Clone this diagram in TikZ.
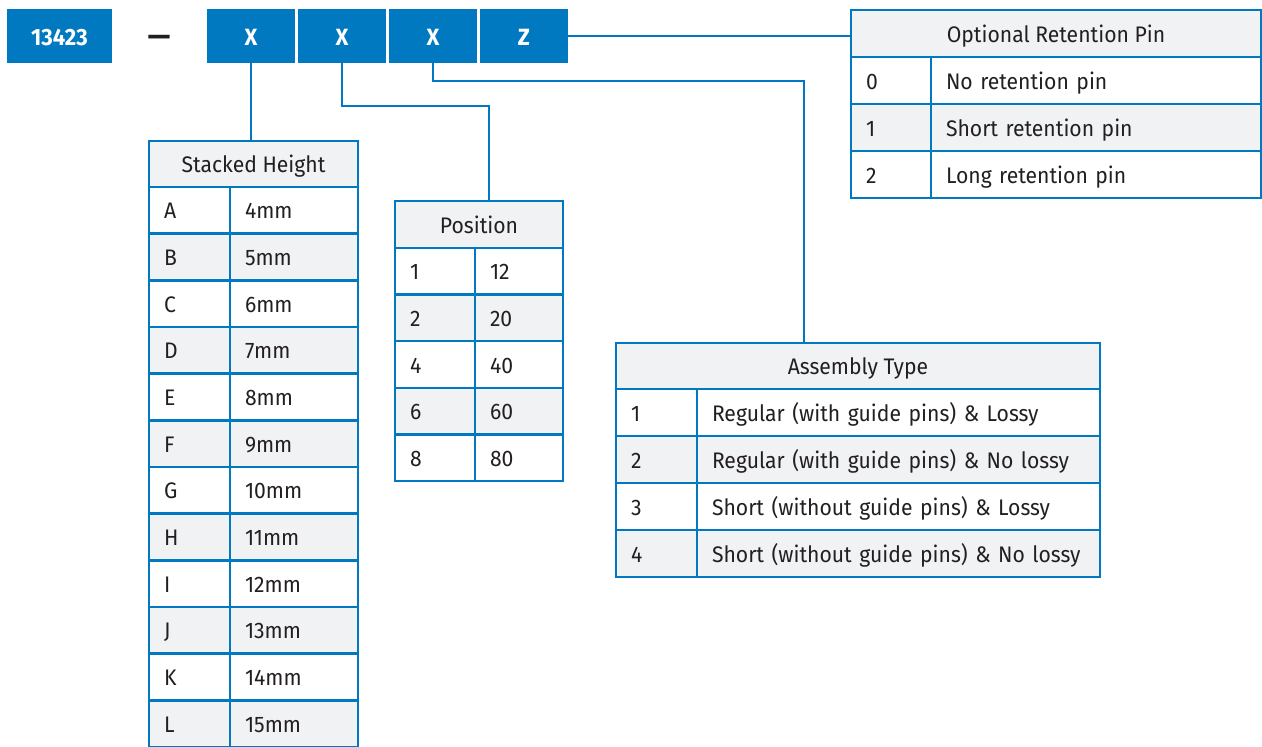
\documentclass[tikz,border=0pt]{standalone}
\usepackage{fontspec}
\setmainfont{Fira Sans}[FakeStretch=0.94]
\usetikzlibrary{positioning}
\definecolor{azul}{RGB}{0,121,193}
\definecolor{gris}{RGB}{241,242,244}
\definecolor{tinta}{RGB}{35,31,32}
\newcommand{\letra}{\fontsize{22.5}{26}\selectfont}
\tikzset{
  caja/.style={fill=azul, text=white, font=\fontsize{23.5}{26}\selectfont\bfseries, minimum height=54pt, inner sep=0pt, outer sep=0pt, text height=20pt, text depth=2pt},
  celda/.style={draw=azul, line width=2.5pt, anchor=north west, inner xsep=15pt, inner ysep=0pt, outer sep=0pt, text=tinta, font=\letra, align=left, text width=#1, text height=21pt, text depth=4pt},
  cabeza/.style={draw=azul, line width=2.5pt, fill=gris, anchor=north west, inner sep=0pt, outer sep=0pt, text=tinta, font=\letra, text height=21pt, text depth=4pt},
  fila1/.style={fill=white},
  fila0/.style={fill=gris},
  linea/.style={draw=azul, line width=2.5pt},
}
\begin{document}
\begin{tikzpicture}[x=1pt, y=-1pt]
\useasboundingbox (0,0) rectangle (1262,747);
% Nodos
\node [caja, minimum width=105pt] (num) at (59.5,36) {13423};
\node [text=tinta, font=\fontsize{30}{34}\selectfont\bfseries, inner sep=0pt] (guion) at (159,41) {—};
\node [caja, minimum width=88.5pt] (x1) at (251,36) {X};
\node [caja, minimum width=88.5pt, right=2.5pt of x1] (x2) {X};
\node [caja, minimum width=88.5pt, right=2.5pt of x2] (x3) {X};
\node [caja, minimum width=88.5pt, right=2.5pt of x3] (z) {Z};
% ---
% Stacked Height
% ---
\node [cabeza, minimum width=209pt, minimum height=46pt] (sh) at (149,141) {Stacked Height};
\foreach \k/\v [count=\i] in {A/4mm, B/5mm, C/6mm, D/7mm, E/8mm, F/9mm, G/10mm, H/11mm, I/12mm, J/13mm, K/14mm, L/15mm} {
  \pgfmathtruncatemacro\c{mod(\i,2)}
  \node [celda=51pt, fila\c, minimum height=46.67pt] (sh-k\i) at (149,{187+(\i-1)*46.67}) {\k};
  \node [celda=98pt, fila\c, minimum height=46.67pt] (sh-v\i) at (230,{187+(\i-1)*46.67}) {\v};
}
% ---
% Position
% ---
\node [cabeza, minimum width=168pt, minimum height=47pt] (pos) at (395,201) {Position};
\foreach \k/\v [count=\i] in {1/12, 2/20, 4/40, 6/60, 8/80} {
  \pgfmathtruncatemacro\c{mod(\i,2)}
  \node [celda=50pt, fila\c, minimum height=46.6pt] (pos-k\i) at (395,{248+(\i-1)*46.6}) {\k};
  \node [celda=58pt, fila\c, minimum height=46.6pt] (pos-v\i) at (475,{248+(\i-1)*46.6}) {\v};
}
% ---
% Assembly Type
% ---
\node [cabeza, minimum width=484pt, minimum height=46pt] (ens) at (616,343) {Assembly Type};
\foreach \k/\v [count=\i] in {1/Regular (with guide pins) \& Lossy, 2/Regular (with guide pins) \& No lossy, 3/Short (without guide pins) \& Lossy, 4/Short (without guide pins) \& No lossy} {
  \pgfmathtruncatemacro\c{mod(\i,2)}
  \node [celda=51pt, fila\c, minimum height=47pt] (ens-k\i) at (616,{389+(\i-1)*47}) {\k};
  \node [celda=373pt, fila\c, minimum height=47pt] (ens-v\i) at (697,{389+(\i-1)*47}) {\v};
}
% ---
% Optional Retention Pin
% ---
\node [cabeza, minimum width=410pt, minimum height=47pt] (ret) at (851,10) {Optional Retention Pin};
\foreach \k/\v [count=\i] in {0/No retention pin, 1/Short retention pin, 2/Long retention pin} {
  \pgfmathtruncatemacro\c{mod(\i,2)}
  \node [celda=50pt, fila\c, minimum height=47pt] (ret-k\i) at (851,{57+(\i-1)*47}) {\k};
  \node [celda=300pt, fila\c, minimum height=47pt] (ret-v\i) at (931,{57+(\i-1)*47}) {\v};
}
% Ejes
\coordinate (q2) at (489,106);
\coordinate (q3) at (804,81);
\draw [linea] (x1.south) -- (x1.south |- sh.north);
\draw [linea] (x2.south) |- (q2) -- (q2 |- pos.north);
\draw [linea] (x3.south) |- (q3) -- (q3 |- ens.north);
\draw [linea] (z.east) -- (z.east -| ret.west);
\end{tikzpicture}
\end{document}
